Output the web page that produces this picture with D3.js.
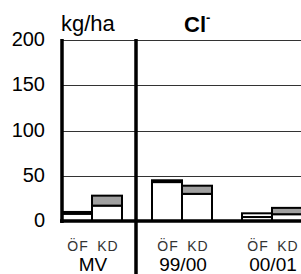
<!DOCTYPE html>
<html lang="sv">
<head>
  <meta charset="UTF-8">
  <title>Cl- kg/ha</title>
  <script src="https://d3js.org/d3.v7.min.js"></script>
  <style>
    body { margin: 0; background: #fff; font-family: Arial, "Liberation Sans", sans-serif; }
    svg { display: block; }
    .grid { stroke: #333; stroke-width: 1; }
    .tick-label { font-size: 20px; fill: #000; }
    .sub-label { font-size: 14px; fill: #333; }
    .cat-label { font-size: 19px; fill: #000; }
  </style>
</head>
<body>
  <svg id="chart" width="301" height="274"></svg>

  <script>
    // data (kg/ha)
    const categories = ["MV", "99/00", "00/01"];
    const subgroups = ["ÖF", "KD"];
    const ofLower = [8, 43, 4.4];
    const ofUpper = [2, 2, 4.1];
    const kdLower = [17, 30, 7.5];
    const kdUpper = [11, 9, 7];
    const yTicks = [0, 50, 100, 150, 200];

    const svg = d3.select("#chart");
    const width = +svg.attr("width");
    const height = +svg.attr("height");

    const plotLeft = 62, plotTop = 40, plotBottom = 221;

    const y = d3.scaleLinear().domain([0, 200]).range([plotBottom, plotTop]);
    const x = d3.scaleBand().domain(categories).range([plotLeft, plotLeft + 240])
      .paddingInner(1 / 3).paddingOuter(0);
    const xSub = d3.scaleBand().domain(subgroups).range([0, x.bandwidth()]);

    // horizontal grid lines
    svg.append("g").selectAll("line")
      .data(yTicks.filter(d => d > 0))
      .enter().append("line")
      .attr("class", "grid")
      .attr("x1", plotLeft).attr("x2", width)
      .attr("y1", d => Math.round(y(d)) + 0.5)
      .attr("y2", d => Math.round(y(d)) + 0.5);

    // tick labels
    svg.append("g").selectAll("text")
      .data(yTicks)
      .enter().append("text")
      .attr("class", "tick-label")
      .attr("x", 45)
      .attr("y", d => y(d) + 6)
      .attr("text-anchor", "end")
      .text(d => d);

    // stacked bars: lower + upper segment for each subgroup
    const rows = [];
    categories.forEach((c, i) => {
      rows.push({ cat: c, sub: "ÖF", lo: ofLower[i], hi: ofUpper[i], hiFill: "#fff" });
      rows.push({ cat: c, sub: "KD", lo: kdLower[i], hi: kdUpper[i], hiFill: "#a0a0a0" });
    });

    const bars = svg.append("g").selectAll("g")
      .data(rows)
      .enter().append("g")
      .attr("transform", d => `translate(${x(d.cat) + xSub(d.sub)},0)`);

    bars.append("rect")
      .attr("x", 0).attr("width", xSub.bandwidth())
      .attr("y", d => y(d.lo))
      .attr("height", d => y(0) - y(d.lo))
      .attr("fill", "#fff").attr("stroke", "#000").attr("stroke-width", 2);

    bars.append("rect")
      .attr("x", 0).attr("width", xSub.bandwidth())
      .attr("y", d => y(d.lo + d.hi))
      .attr("height", d => y(d.lo) - y(d.lo + d.hi))
      .attr("fill", d => d.hiFill).attr("stroke", "#000").attr("stroke-width", 2);

    // axis lines
    svg.append("line")
      .attr("x1", plotLeft).attr("x2", plotLeft)
      .attr("y1", plotTop - 1).attr("y2", plotBottom + 2)
      .attr("stroke", "#000").attr("stroke-width", 3.5);

    svg.append("line")
      .attr("x1", plotLeft - 2).attr("x2", width)
      .attr("y1", plotBottom).attr("y2", plotBottom)
      .attr("stroke", "#000").attr("stroke-width", 3.5);

    // separator between MV and the seasons
    const sepX = x("MV") + x.bandwidth() + (x.step() - x.bandwidth()) / 2 - 1;
    svg.append("line")
      .attr("x1", sepX).attr("x2", sepX)
      .attr("y1", plotTop - 1).attr("y2", height)
      .attr("stroke", "#000").attr("stroke-width", 3.5);

    // sub labels ÖF / KD
    categories.forEach(c => {
      subgroups.forEach(s => {
        svg.append("text")
          .attr("class", "sub-label")
          .attr("x", x(c) + xSub(s) + xSub.bandwidth() / 2 + 1)
          .attr("y", 251)
          .attr("text-anchor", "middle")
          .style("letter-spacing", "1px")
          .text(s);
      });
      svg.append("text")
        .attr("class", "cat-label")
        .attr("x", x(c) + x.bandwidth() / 2 + 1)
        .attr("y", 271)
        .attr("text-anchor", "middle")
        .text(c);
    });

    // unit and title
    svg.append("text")
      .attr("x", 61).attr("y", 31)
      .style("font-size", "22px")
      .text("kg/ha");

    const title = svg.append("text")
      .attr("x", 184).attr("y", 32)
      .style("font-size", "22px").style("font-weight", "bold");
    title.append("tspan").text("Cl");
    title.append("tspan").attr("dy", -10).style("font-size", "13px").text("-");
  </script>
</body>
</html>
